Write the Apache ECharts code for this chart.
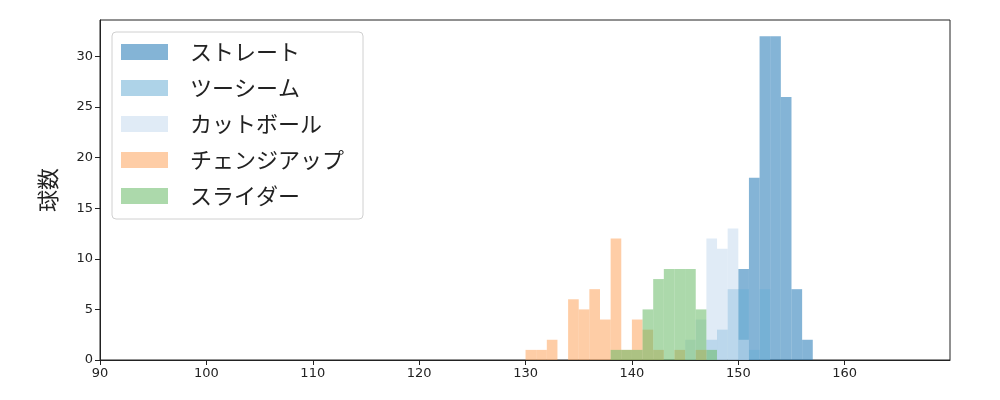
<!DOCTYPE html>
<html>
<head>
<meta charset="utf-8">
<script src="https://cdn.jsdelivr.net/npm/echarts@6/dist/echarts.min.js"></script>
<style>
  html, body { margin: 0; padding: 0; background: #fff; }
  #chart { width: 1000px; height: 400px; }
</style>
</head>
<body>
<div id="chart"></div>
<script>
// pitch types (legend order)
const pitchNames = ['ストレート', 'ツーシーム', 'カットボール', 'チェンジアップ', 'スライダー'];
const pitchColors = [
  'rgba(31,119,180,0.55)',
  'rgba(107,174,214,0.55)',
  'rgba(198,219,239,0.55)',
  'rgba(253,164,93,0.55)',
  'rgba(104,186,102,0.55)'
];

// histogram counts, 1 km/h bins starting at the given speed
const straightStart = 150;
const straightCounts = [9, 18, 32, 32, 26, 7, 2];
const twoSeamStart = 147;
const twoSeamCounts = [2, 3, 7, 7, 1, 7];
const cutStart = 145;
const cutCounts = [2, 4, 12, 11, 13, 2];
const changeStart = 130;
const changeCounts = [1, 1, 2, 0, 6, 5, 7, 4, 12, 1, 4, 3, 1, 0, 1, 0, 1];
const sliderStart = 138;
const sliderCounts = [1, 1, 1, 5, 8, 9, 9, 9, 5, 1];

const xTicks = [90, 100, 110, 120, 130, 140, 150, 160];
const yTicks = [0, 5, 10, 15, 20, 25, 30];

const starts = [straightStart, twoSeamStart, cutStart, changeStart, sliderStart];
const counts = [straightCounts, twoSeamCounts, cutCounts, changeCounts, sliderCounts];

function toBins(start, arr) {
  return arr.map((c, i) => [start + i, start + i + 1, c]);
}

function renderBar(params, api) {
  const p0 = api.coord([api.value(0), api.value(2)]);
  const p1 = api.coord([api.value(1), 0]);
  return {
    type: 'rect',
    shape: { x: p0[0], y: p0[1], width: p1[0] - p0[0], height: p1[1] - p0[1] },
    style: { fill: api.visual('color') }
  };
}

const series = pitchNames.map((name, i) => ({
  name: name,
  type: 'custom',
  renderItem: renderBar,
  color: pitchColors[i],
  encode: { x: [0, 1], y: 2 },
  data: toBins(starts[i], counts[i]),
  z: 2 + i
}));

const chart = echarts.init(document.getElementById('chart'), null, { renderer: 'canvas' });
chart.setOption({
  animation: false,
  backgroundColor: '#fff',
  grid: { left: 100, right: 50, top: 20, bottom: 40, show: true, borderColor: '#222', borderWidth: 1, backgroundColor: 'transparent' },
  legend: {
    orient: 'vertical',
    left: 112,
    top: 32,
    padding: [9, 19, 12, 9],
    backgroundColor: 'rgba(255,255,255,0.8)',
    borderColor: '#d0d0d0',
    borderWidth: 1,
    borderRadius: 4,
    itemWidth: 47,
    itemHeight: 16,
    itemGap: 14,
    icon: 'rect',
    data: pitchNames,
    textStyle: { fontFamily: 'Noto Sans CJK JP', fontSize: 22, color: '#222', lineHeight: 22, padding: [0, 0, 0, 17] }
  },
  xAxis: {
    type: 'value',
    min: 90,
    max: 169.9,
    interval: 10,
    splitLine: { show: false },
    axisLine: { show: true, onZero: false, lineStyle: { color: '#222', width: 1 } },
    axisTick: { show: true, length: 5, lineStyle: { color: '#222' }, customValues: xTicks },
    axisLabel: { color: '#222', fontFamily: 'DejaVu Sans', fontSize: 13, margin: 7, customValues: xTicks }
  },
  yAxis: {
    type: 'value',
    min: 0,
    max: 33.6,
    interval: 5,
    name: '球数',
    nameLocation: 'middle',
    nameGap: 41,
    nameTextStyle: { fontFamily: 'Noto Sans CJK JP', fontSize: 22, color: '#222' },
    splitLine: { show: false },
    axisLine: { show: true, lineStyle: { color: '#222', width: 1 } },
    axisTick: { show: true, length: 5, lineStyle: { color: '#222' }, customValues: yTicks },
    axisLabel: { color: '#222', fontFamily: 'DejaVu Sans', fontSize: 13, margin: 7, customValues: yTicks }
  },
  series: series
});
</script>
</body>
</html>
